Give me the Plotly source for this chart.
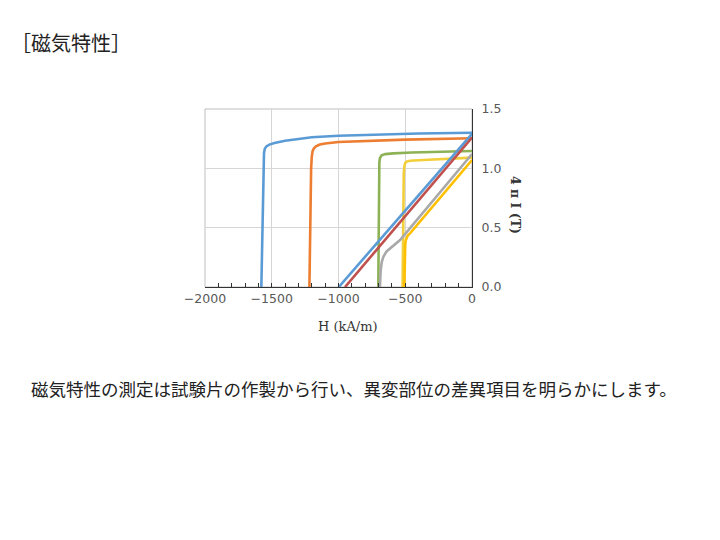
import plotly.graph_objects as go

# demagnetization curves: H (kA/m) vs 4πI / B (T)
blue_j_h = [-1578, -1572, -1568, -1562, -1558, -1552, -1540, -1518, -1480, -1400, -1300, -1200, -1000, -700, -400, 0]
blue_j_b = [0, 0.40, 0.78, 1.05, 1.13, 1.165, 1.185, 1.20, 1.213, 1.233, 1.25, 1.262, 1.275, 1.285, 1.293, 1.30]
blue_b_h = [-998, 0]
blue_b_b = [0, 1.29]

orange_j_h = [-1218, -1214, -1211, -1205, -1200, -1194, -1185, -1169, -1140, -1100, -1000, -800, -500, 0]
orange_j_b = [0, 0.40, 0.78, 1.00, 1.10, 1.145, 1.168, 1.185, 1.20, 1.21, 1.222, 1.232, 1.242, 1.253]
red_b_h = [-951, 0]
red_b_b = [0, 1.26]

green_j_h = [-702, -700, -697, -694, -690, -684, -677, -650, -590, -450, -240, 0]
green_j_b = [0, 0.40, 0.80, 1.05, 1.085, 1.10, 1.11, 1.12, 1.126, 1.133, 1.14, 1.146]
gray_b_h = [-690, -689, -687, -684, -676, -664, -640, -614, -580, -539, 0]
gray_b_b = [0, 0.04, 0.09, 0.143, 0.21, 0.255, 0.30, 0.326, 0.36, 0.396, 1.12]

yellow_j_h = [-520, -518, -515, -511, -506, -500, -490, -464, -400, -240, 0]
yellow_j_b = [0, 0.40, 0.80, 0.96, 1.02, 1.045, 1.057, 1.064, 1.068, 1.076, 1.09]
yellow_b_h = [-507, -505, -503, -500, -496, -490, -480, -464, 0]
yellow_b_b = [0, 0.15, 0.30, 0.36, 0.395, 0.418, 0.436, 0.452, 1.07]

curves = [
    (blue_j_h, blue_j_b, "#5B9BD5"),
    (orange_j_h, orange_j_b, "#ED7D31"),
    (green_j_h, green_j_b, "#8DB255"),
    (yellow_j_h, yellow_j_b, "#F2CF3A"),
    (blue_b_h, blue_b_b, "#5B9BD5"),
    (red_b_h, red_b_b, "#C0504D"),
    (gray_b_h, gray_b_b, "#A9A9A9"),
    (yellow_b_h, yellow_b_b, "#FFC000"),
]

fig = go.Figure()
for h, b, c in curves:
    fig.add_trace(go.Scatter(x=h, y=b, mode="lines", line=dict(color=c, width=2.6),
                             showlegend=False))

tick_font = dict(family="DejaVu Sans", size=12.5, color="#595959")

# page body has an 8px margin, so pixel positions are shifted by -8
def px(x):
    return (x - 8) / 720

def py(y):
    return 1 - (y - 8) / 540

fig.update_layout(
    width=720, height=540,
    margin=dict(l=0, r=0, t=0, b=0),
    paper_bgcolor="white", plot_bgcolor="white",
    xaxis=dict(domain=[px(205), px(472)], range=[-2000, 0], dtick=500,
               showgrid=True, gridcolor="#D6D6D6", gridwidth=1, zeroline=False,
               showline=True, linecolor="#333333", linewidth=1.2,
               ticks="inside", ticklen=4, tickcolor="#333333",
               minor=dict(ticks="inside", dtick=100, ticklen=4, tickcolor="#333333", showgrid=False),
               tickfont=tick_font, automargin=False),
    yaxis=dict(domain=[py(287), py(109)], range=[0, 1.5], dtick=0.5,
               tickformat=".1f", side="right",
               showgrid=True, gridcolor="#D6D6D6", gridwidth=1, zeroline=False,
               showline=True, linecolor="#333333", linewidth=1.2,
               ticks="outside", ticklen=6, tickcolor="white",
               tickfont=tick_font, automargin=False),
    shapes=[dict(type="rect", xref="x domain", yref="y domain", x0=0, x1=1, y0=0, y1=1,
                 line=dict(color="#BFBFBF", width=1), layer="below")],
    annotations=[
        dict(text="［磁気特性］", x=px(9), y=py(43), xref="paper", yref="paper",
             xanchor="left", yanchor="middle", showarrow=False,
             font=dict(family="Noto Sans CJK JP", size=20, color="#222222")),
        dict(text="H (kA/m)", x=px(348), y=py(326), xref="paper", yref="paper",
             xanchor="center", yanchor="middle", showarrow=False,
             font=dict(family="DejaVu Serif", size=13, color="#333333")),
        dict(text="<b>4 π I (T)</b>", x=px(516), y=py(205), xref="paper", yref="paper",
             xanchor="center", yanchor="middle", showarrow=False, textangle=90,
             font=dict(family="DejaVu Serif", size=12.5, color="#333333")),
        dict(text="磁気特性の測定は試験片の作製から行い、異変部位の差異項目を明らかにします。",
             x=px(29), y=py(388), xref="paper", yref="paper",
             xanchor="left", yanchor="middle", showarrow=False,
             font=dict(family="Noto Sans CJK JP", size=17.5, color="#222222")),
    ],
)

fig.write_html("out.html")
